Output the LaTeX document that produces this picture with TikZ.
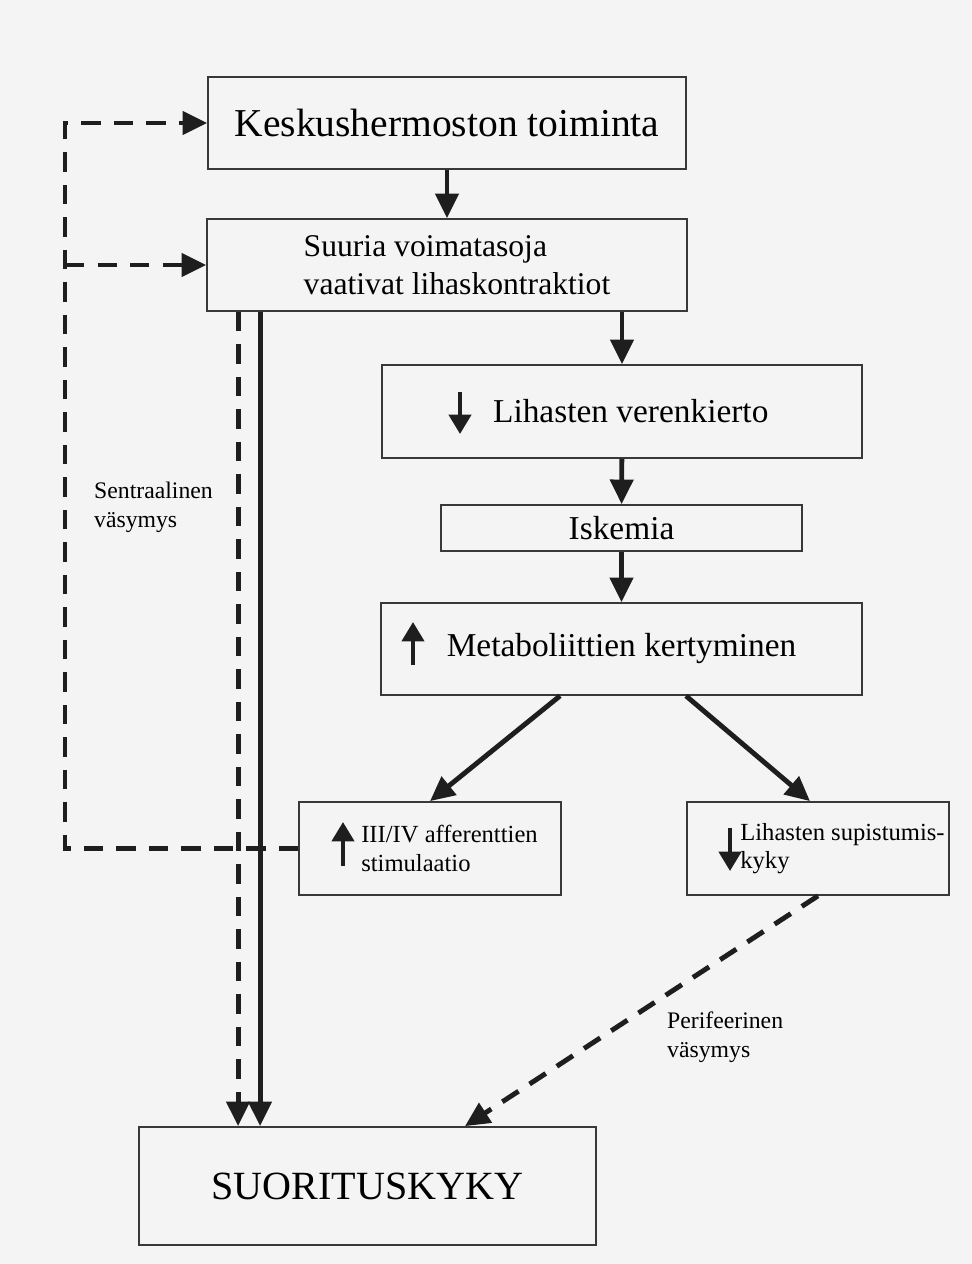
\documentclass[tikz,border=0pt]{standalone}
\usepackage{fontspec}
\setmainfont{Liberation Serif}
\usetikzlibrary{arrows.meta}

\definecolor{ink}{HTML}{1E1E1E}
\definecolor{frame}{HTML}{383838}
\definecolor{paper}{HTML}{F4F4F4}

\begin{document}
\begin{tikzpicture}[x=0.02cm,y=-0.02cm,
 box/.style={draw=frame,line width=1pt,inner sep=0pt,text=black},
 arr/.style={draw=ink,line width=2.8pt,-{Triangle[length=14pt,width=13pt]}},
 dasharr/.style={arr,dash pattern=on 11pt off 7.5pt},
 updown/.style={draw=ink,line width=2.4pt,-{Triangle[length=11pt,width=12.5pt]}},
 note/.style={align=left,font=\fontsize{13.5}{16.5}\selectfont}]
\fill[paper] (0,0) rectangle (972,1264);
\useasboundingbox (0,0) rectangle (972,1264);
\node[box,minimum width=9.56cm,minimum height=1.84cm,font=\fontsize{22.5}{27}\selectfont] (kesk) at (447,123) {Keskushermoston toiminta};
\node[box,minimum width=9.6cm,minimum height=1.84cm,align=left,font=\fontsize{18}{21.6}\selectfont] (suuria) at (447,265) {\hspace*{0.4cm}Suuria voimatasoja\\\hspace*{0.4cm}vaativat lihaskontraktiot};
\node[box,minimum width=9.6cm,minimum height=1.86cm,font=\fontsize{19}{23}\selectfont] (veren) at (622,411.5) {\hspace{0.35cm}Lihasten verenkierto};
\node[box,minimum width=7.22cm,minimum height=0.92cm,font=\fontsize{19}{23}\selectfont] (iskemia) at (621.5,528) {Iskemia};
\node[box,minimum width=9.62cm,minimum height=1.84cm,font=\fontsize{19}{23}\selectfont] (metab) at (621.5,649) {Metaboliittien kertyminen\hspace{0.26cm}};
\node[box,minimum width=5.24cm,minimum height=1.86cm,align=left,font=\fontsize{14}{16}\selectfont] (aff) at (430,848.5) {\hspace*{0.78cm}III/IV afferenttien\\\hspace*{0.78cm}stimulaatio};
\node[box,minimum width=5.24cm,minimum height=1.86cm,align=left,font=\fontsize{14}{16}\selectfont] (supist) at (818,848.5) {\hspace*{0.98cm}Lihasten supistumis-\\\hspace*{0.98cm}kyky};
\node[box,minimum width=9.14cm,minimum height=2.36cm,font=\fontsize{22.8}{27}\selectfont] (suor) at (367.5,1186) {SUORITUSKYKY};
\node[note,anchor=west] (central) at (88,507) {Sentraalinen\\väsymys};
\node[note,anchor=west] (periph) at (661,1037) {Perifeerinen\\väsymys};
\coordinate (loopx) at (65,0);
\draw[arr] (kesk) -- (suuria);
\draw[arr] (suuria.south -| veren.north) -- (veren.north);
\draw[arr] (veren) -- (iskemia);
\draw[arr] (iskemia) -- (metab);
\draw[arr] ([xshift=-1.23cm]metab.south) -- (aff.north);
\draw[arr] ([xshift=1.29cm]metab.south) -- ([xshift=-0.16cm]supist.north);
\draw[arr] ([xshift=-3.74cm]suuria.south) -- ([xshift=-3.74cm]suuria.south |- suor.north);
\draw[dasharr] ([xshift=-4.18cm]suuria.south) -- ([xshift=-4.18cm]suuria.south |- suor.north);
\draw[dasharr] (aff.west) -- (aff.west -| loopx) |- (kesk.west);
\draw[dasharr] (suuria.west -| loopx) -- (suuria.west);
\draw[dasharr] (supist.south) -- ([xshift=1.95cm]suor.north);
\draw[updown] (460,392) -- (460,434);
\draw[updown] (413,665) -- (413,622);
\draw[updown] (343,866) -- (343,822);
\draw[updown] (730,828) -- (730,871);
\end{tikzpicture}
\end{document}
